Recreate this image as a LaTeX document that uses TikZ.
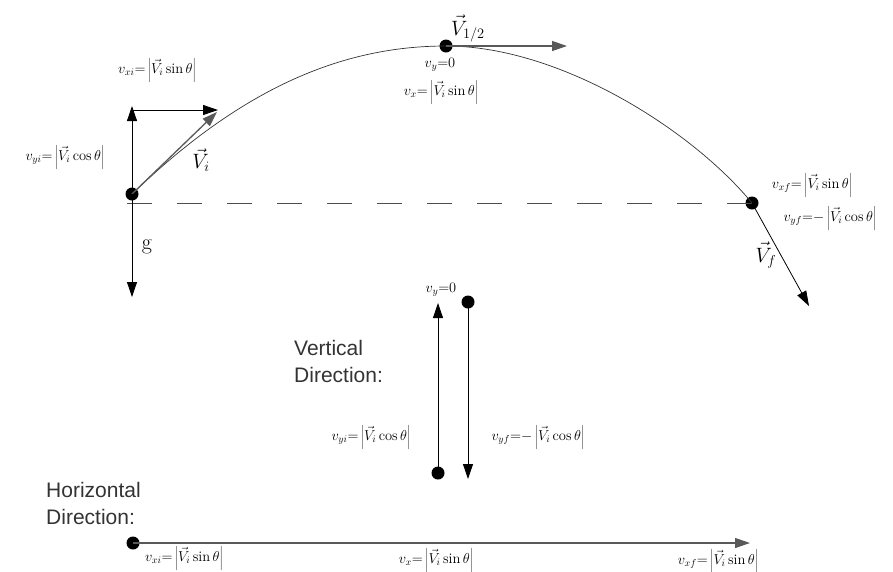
\documentclass[tikz,border=0pt]{standalone}
\usepackage{fontspec}
\setsansfont{Liberation Sans}
\usetikzlibrary{arrows.meta}
\begin{document}
\begin{tikzpicture}[x=1pt,y=-1pt,
  dot/.style={circle,fill=black,inner sep=0pt,minimum size=13pt},
  arr/.style={-{Triangle[length=15pt,width=10pt]},line width=0.8pt},
  vec/.style={-{Triangle[length=15pt,width=10pt]},line width=1.3pt,draw=black!65},
  eq/.style={inner sep=0pt,font=\fontsize{14.5}{16}\selectfont},
  lab/.style={inner sep=0pt,font=\fontsize{21}{27}\selectfont\sffamily,align=left,text=black!80},
  big/.style={inner sep=0pt,font=\fontsize{22}{24}\selectfont}]
\useasboundingbox (0,0) rectangle (893,571);
% trajectory points
\node[dot] (A) at (132,194) {};
\node[dot] (P) at (446,46) {};
\node[dot] (F) at (752,203) {};
\coordinate (Aup) at (132,106);
\coordinate (Adown) at (132,297);
\coordinate (vxs) at (132,110);
\coordinate (vxe) at (218,110);
\coordinate (Vi) at (217,112);
\coordinate (Ph) at (567,46);
\coordinate (Fv) at (809,306);
\coordinate (D0) at (127,203);
\coordinate (D1) at (752,203);
% dashed ground line
\draw[black!70,line width=0.9pt,dash pattern=on 25pt off 25pt] (D0) -- (D1);
% curve
\draw[line width=0.7pt,black!80] (A.center) .. controls (240,90) and (340,46) .. (P.center)
  .. controls (560,46) and (692,130) .. (F.center);
% vectors at start
\draw[arr] (A.center) -- (Aup);
\draw[arr] (vxs) -- (vxe);
\draw[vec] (A.center) -- (Vi);
\draw[arr] (A.center) -- (Adown);
% peak and end vectors
\draw[vec] (P.center) -- (Ph);
\draw[arr] (F.center) -- (Fv);
% labels on trajectory
\node[eq] (l1) at (157,70) {$v_{xi}{=}\left|\vec{V}_{i}\sin\theta\right|$};
\node[eq] (l2) at (65,157) {$v_{yi}{=}\left|\vec{V}_{i}\cos\theta\right|$};
\node[big] (l3) at (201,160) {$\vec{V}_{i}$};
\node[big] (l4) at (147,247) {g};
\node[eq] (l5) at (440,65) {$v_{y}{=}0$};
\node[eq] (l6) at (441,92) {$v_{x}{=}\left|\vec{V}_{i}\sin\theta\right|$};
\node[big,anchor=base west] (l7) at (451,35) {$\vec{V}_{1/2}$};
\node[eq] (l8) at (812,185) {$v_{xf}{=}\left|\vec{V}_{i}\sin\theta\right|$};
\node[eq] (l9) at (830,218) {$v_{yf}{=}{-}\left|\vec{V}_{i}\cos\theta\right|$};
\node[big] (l10) at (766,255) {$\vec{V}_{f}$};
% vertical direction
\node[dot] (V1) at (438,473) {};
\node[dot] (V2) at (468,302) {};
\coordinate (V1t) at (438,303);
\coordinate (V2t) at (468,479);
\draw[arr] (V1.center) -- (V1t);
\draw[arr] (V2.center) -- (V2t);
\node[eq] (l11) at (441,290) {$v_{y}{=}0$};
\node[lab,anchor=west] (l12) at (294,361) {Vertical\\Direction:};
\node[eq] (l13) at (371,437) {$v_{yi}{=}\left|\vec{V}_{i}\cos\theta\right|$};
\node[eq] (l14) at (538,437) {$v_{yf}{=}{-}\left|\vec{V}_{i}\cos\theta\right|$};
% horizontal direction
\node[dot] (H0) at (133,543) {};
\coordinate (H1) at (750,543);
\draw[vec] (H0.center) -- (H1);
\node[lab,anchor=west] (l15) at (46,503) {Horizontal\\Direction:};
\node[eq] (l16) at (184,558) {$v_{xi}{=}\left|\vec{V}_{i}\sin\theta\right|$};
\node[eq] (l17) at (436,560) {$v_{x}{=}\left|\vec{V}_{i}\sin\theta\right|$};
\node[eq] (l18) at (718,561) {$v_{xf}{=}\left|\vec{V}_{i}\sin\theta\right|$};
\end{tikzpicture}
\end{document}
